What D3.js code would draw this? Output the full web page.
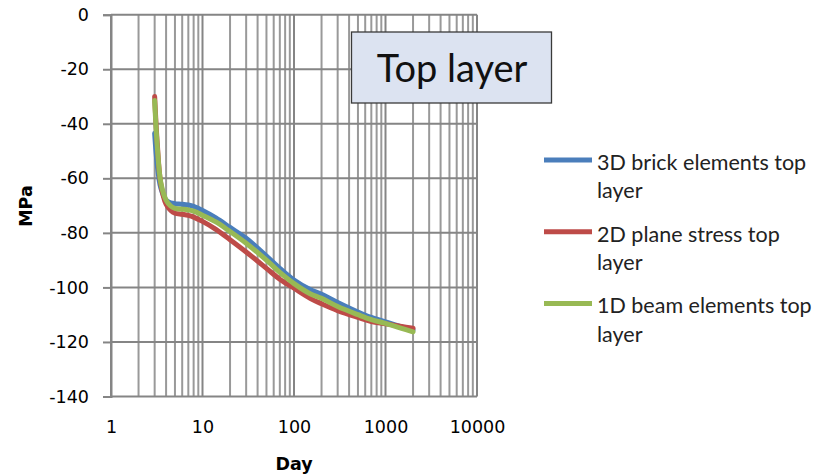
<!DOCTYPE html>
<html>
<head>
<meta charset="utf-8">
<script src="https://cdn.jsdelivr.net/npm/d3@7"></script>
<style>
  body { margin: 0; background: #fff; }
</style>
</head>
<body>
<div id="chart"></div>
<script>
// data
var days = [3, 3.2, 3.5, 4, 4.5, 5, 6, 7, 8, 10, 14, 20, 30, 50, 70, 100, 150, 200, 300, 500, 700, 1000, 1500, 2000];
var brick3d = [-43.5, -55, -63.5, -68, -69, -69.3, -69.5, -69.8, -70.3, -71.8, -74.5, -78, -82, -88.5, -93, -97.3, -100.8, -102.5, -105.5, -109, -111, -112.6, -114.5, -115.6];
var plane2d = [-30, -47, -62, -69.5, -71.8, -72.8, -73.2, -73.6, -74.2, -75.8, -78.7, -82.5, -87, -93, -97, -100.3, -104, -106, -108.5, -111, -112.5, -113.3, -114.3, -115];
var beam1d = [-31.5, -48, -61.5, -68, -70.2, -71, -71.3, -71.6, -72, -73.5, -76, -79.5, -83.8, -90, -94.5, -98.6, -102.3, -104, -107, -110, -111.8, -113.2, -115, -116.3];
var seriesNames = ['3D brick elements top layer', '2D plane stress top layer', '1D beam elements top layer'];
var xTicks = [1, 10, 100, 1000, 10000];
var yTicks = [0, -20, -40, -60, -80, -100, -120, -140];

// setup SVG
var width = 818, height = 476;
var svg = d3.select('#chart').append('svg')
    .attr('width', width).attr('height', height);

var x = d3.scaleLog().domain([1, 10000]).range([111, 477]);
var y = d3.scaleLinear().domain([-140, 0]).range([396.5, 14.7]);

// minor gridlines (2..9 in every decade)
var minor = [];
xTicks.slice(0, -1).forEach(function(d) {
    for (var k = 2; k <= 9; k++) minor.push(d * k);
});
svg.append('g').selectAll('line')
    .data(minor).enter().append('line')
    .attr('x1', function(d) { return x(d); }).attr('x2', function(d) { return x(d); })
    .attr('y1', y(0)).attr('y2', y(-140))
    .attr('stroke', '#999').attr('stroke-width', 2);

// major vertical gridlines
svg.append('g').selectAll('line')
    .data(xTicks).enter().append('line')
    .attr('x1', function(d) { return x(d); }).attr('x2', function(d) { return x(d); })
    .attr('y1', y(0)).attr('y2', y(-140))
    .attr('stroke', '#858585').attr('stroke-width', 2);

// horizontal gridlines
svg.append('g').selectAll('line')
    .data(yTicks).enter().append('line')
    .attr('x1', x(1)).attr('x2', x(10000))
    .attr('y1', function(d) { return y(d); }).attr('y2', function(d) { return y(d); })
    .attr('stroke', '#858585').attr('stroke-width', 2);

// y axis
var yAxis = svg.append('g')
    .attr('transform', 'translate(' + x(1) + ',0)')
    .call(d3.axisLeft(y).tickValues(yTicks).tickSize(8).tickPadding(14).tickFormat(d3.format('d')));
yAxis.select('.domain').attr('stroke', '#858585').attr('stroke-width', 2);
yAxis.selectAll('.tick line').attr('stroke', '#858585').attr('stroke-width', 2);
yAxis.selectAll('text')
    .attr('font-family', 'DejaVu Sans').attr('font-size', '17.5px').attr('fill', '#000')
    .text(function(d) { return d === 0 ? '0' : '-' + Math.abs(d); });

// x axis labels
var xAxis = svg.append('g')
    .attr('transform', 'translate(0,' + y(-140) + ')')
    .call(d3.axisBottom(x).tickValues(xTicks).tickSize(0).tickPadding(24).tickFormat(d3.format('d')));
xAxis.select('.domain').remove();
xAxis.selectAll('text')
    .attr('font-family', 'DejaVu Sans').attr('font-size', '17.5px').attr('fill', '#000');

// axis titles
svg.append('text')
    .attr('transform', 'translate(32,206) rotate(-90)')
    .attr('text-anchor', 'middle')
    .attr('font-family', 'DejaVu Sans').attr('font-weight', 'bold')
    .attr('font-size', '17.5px').attr('fill', '#000')
    .text('MPa');
svg.append('text')
    .attr('x', (x(1) + x(10000)) / 2).attr('y', 470)
    .attr('text-anchor', 'middle')
    .attr('font-family', 'DejaVu Sans').attr('font-weight', 'bold')
    .attr('font-size', '17.5px').attr('fill', '#000')
    .text('Day');

// curves
var colors = ['#4a7ebb', '#be4b48', '#98b954'];
var series = [brick3d, plane2d, beam1d];
var line = d3.line()
    .x(function(d) { return x(d[0]); })
    .y(function(d) { return y(d[1]); })
    .curve(d3.curveCatmullRom.alpha(0.5));

svg.append('g').selectAll('path')
    .data(series).enter().append('path')
    .attr('d', function(vals) { return line(days.map(function(d, i) { return [d, vals[i]]; })); })
    .attr('fill', 'none')
    .attr('stroke', function(d, i) { return colors[i]; })
    .attr('stroke-width', 5)
    .attr('stroke-linecap', 'round')
    .attr('stroke-linejoin', 'round');

// title box
svg.append('rect')
    .attr('x', 351.5).attr('y', 32).attr('width', 200).attr('height', 71)
    .attr('fill', '#dce3f1').attr('stroke', '#3a3a3a').attr('stroke-width', 1.3);
svg.append('text')
    .attr('x', 452).attr('y', 82)
    .attr('text-anchor', 'middle')
    .attr('font-family', 'Lato').attr('font-size', '38px').attr('fill', '#111')
    .text('Top layer');

// legend
var legend = svg.append('g').selectAll('g')
    .data(seriesNames).enter().append('g')
    .attr('transform', function(d, i) { return 'translate(0,' + (i * 71.7) + ')'; });
legend.append('line')
    .attr('x1', 544).attr('x2', 592)
    .attr('y1', 160).attr('y2', 160)
    .attr('stroke', function(d, i) { return colors[i]; })
    .attr('stroke-width', 5);
legend.append('text')
    .attr('x', 597).attr('y', 170)
    .attr('font-family', 'Lato').attr('font-size', '21.5px').attr('fill', '#222')
    .text(function(d) { return d.replace(/ layer$/, ''); });
legend.append('text')
    .attr('x', 597).attr('y', 198.3)
    .attr('font-family', 'Lato').attr('font-size', '21.5px').attr('fill', '#222')
    .text('layer');
</script>
</body>
</html>
